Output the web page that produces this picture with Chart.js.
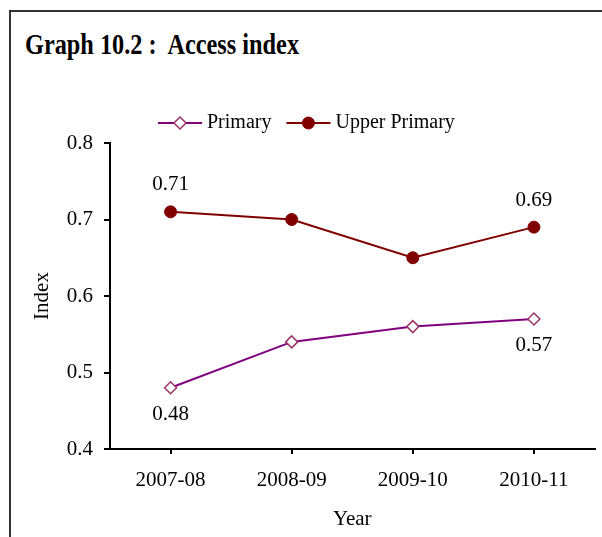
<!DOCTYPE html>
<html>
<head>
<meta charset="utf-8">
<script src="https://cdn.jsdelivr.net/npm/chart.js@4.4.1/dist/chart.umd.min.js"></script>
<style>
  body { margin: 0; background: #fff; }
  #frame { position: absolute; left: 9px; top: 10px; width: 640px; height: 600px; border: 2px solid #333; box-sizing: border-box; }
  #title { position: absolute; left: 25px; top: 29px; font: bold 30px/30px "Liberation Serif", "Times New Roman", serif; color: #000; white-space: pre; transform: scale(0.81, 1); transform-origin: 0 0; }
  #wrap { position: absolute; left: 0; top: 0; width: 602px; height: 537px; }
</style>
</head>
<body>
<div id="frame"></div>
<div id="title">Graph 10.2 :  Access index</div>
<div id="wrap"><canvas id="chart"></canvas></div>
<script>
const years = ["2007-08", "2008-09", "2009-10", "2010-11"];
const primary = [0.48, 0.54, 0.56, 0.57];
const upperPrimary = [0.71, 0.70, 0.65, 0.69];
const yTicks = [0.4, 0.5, 0.6, 0.7, 0.8];
const primaryLabelAt = [0, 3];
const upperLabelAt = [0, 3];

const FONT = "'Liberation Serif', 'Times New Roman', serif";

// value labels next to selected points
const valueLabels = {
  id: "valueLabels",
  afterDatasetsDraw(chart) {
    const ctx = chart.ctx;
    ctx.save();
    ctx.font = "21px " + FONT;
    ctx.fillStyle = "#000";
    ctx.textAlign = "center";
    ctx.textBaseline = "middle";
    chart.data.datasets.forEach((ds, i) => {
      const meta = chart.getDatasetMeta(i);
      ds.labelAt.forEach((idx) => {
        const pt = meta.data[idx];
        const dy = ds.labelSide === "above" ? -27 : 27;
        ctx.fillText(ds.data[idx].toFixed(2), pt.x, pt.y + dy);
      });
    });
    ctx.restore();
  },
};

// legend drawn as line - marker - line, like the original
const lineLegend = {
  id: "lineLegend",
  afterDraw(chart) {
    const ctx = chart.ctx;
    let x = 158;
    const y = 123;
    ctx.save();
    ctx.font = "20px " + FONT;
    ctx.textBaseline = "middle";
    chart.data.datasets.forEach((ds) => {
      ctx.strokeStyle = ds.borderColor;
      ctx.lineWidth = 2;
      ctx.beginPath();
      ctx.moveTo(x, y);
      ctx.lineTo(x + 44, y);
      ctx.stroke();
      ctx.fillStyle = ds.pointBackgroundColor;
      ctx.strokeStyle = ds.pointBorderColor;
      ctx.lineWidth = ds.pointBorderWidth;
      Chart.helpers.drawPoint(ctx, { pointStyle: ds.pointStyle, radius: ds.pointRadius, borderWidth: ds.pointBorderWidth }, x + 22, y);
      ctx.fillStyle = "#000";
      ctx.fillText(ds.label, x + 49, y);
      x += 49 + ctx.measureText(ds.label).width + 15;
    });
    ctx.restore();
  },
};

new Chart(document.getElementById("chart").getContext("2d"), {
  type: "line",
  data: {
    labels: years,
    datasets: [
      {
        label: "Primary",
        data: primary,
        borderColor: "#800080",
        borderWidth: 2,
        tension: 0,
        pointStyle: "rectRot",
        pointRadius: 6,
        pointBackgroundColor: "#ffffff",
        pointBorderColor: "#993366",
        pointBorderWidth: 1.5,
        labelAt: primaryLabelAt,
        labelSide: "below",
      },
      {
        label: "Upper Primary",
        data: upperPrimary,
        borderColor: "#800000",
        borderWidth: 2,
        tension: 0,
        pointStyle: "circle",
        pointRadius: 6,
        pointBackgroundColor: "#800000",
        pointBorderColor: "#800000",
        pointBorderWidth: 1,
        labelAt: upperLabelAt,
        labelSide: "above",
      },
    ],
  },
  options: {
    responsive: true,
    maintainAspectRatio: false,
    animation: false,
    layout: { padding: { top: 143, right: 6, bottom: 0, left: 0 } },
    plugins: {
      legend: { display: false },
      tooltip: { enabled: false },
    },
    scales: {
      x: {
        offset: true,
        grid: { drawOnChartArea: false, tickLength: 5, color: "#000", lineWidth: 2 },
        border: { color: "#000", width: 2 },
        ticks: { color: "#000", font: { family: FONT, size: 21 }, padding: 14, maxRotation: 0 },
        title: { display: true, text: "Year", color: "#000", font: { family: FONT, size: 21 }, padding: 5 },
        afterFit(s) { s.height = 88; },
      },
      y: {
        min: 0.4,
        max: 0.8,
        afterBuildTicks(s) { s.ticks = yTicks.map((v) => ({ value: v })); },
        grid: { drawOnChartArea: false, tickLength: 6, color: "#000", lineWidth: 2 },
        border: { color: "#000", width: 2 },
        ticks: { color: "#000", font: { family: FONT, size: 21 }, padding: 11, callback: (v) => v.toFixed(1) },
        title: { display: true, text: "Index", color: "#000", font: { family: FONT, size: 21 }, padding: 30 },
        afterFit(s) { s.width = 110; },
      },
    },
  },
  plugins: [valueLabels, lineLegend],
});
</script>
</body>
</html>
